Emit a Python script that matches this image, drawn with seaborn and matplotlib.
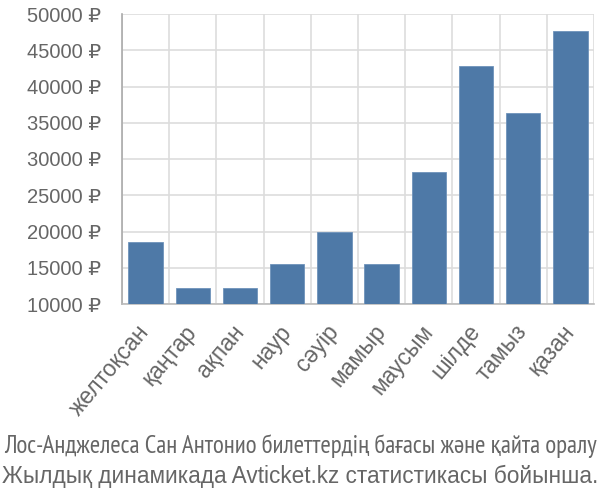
import matplotlib
matplotlib.use("Agg")
import matplotlib.pyplot as plt
import seaborn as sns
import pandas as pd
import numpy as np
from matplotlib import font_manager

months = ["желтоқсан", "қаңтар", "ақпан", "наур", "сәуір", "мамыр", "маусым", "шілде", "тамыз", "қазан"]
prices = [18500, 12200, 12200, 15500, 20000, 15500, 28250, 42800, 36300, 47650]
yticks = [10000, 15000, 20000, 25000, 30000, 35000, 40000, 45000, 50000]
caption1 = "Лос-Анджелеса Сан Антонио билеттердің бағасы және қайта оралу"
caption2 = "Жылдық динамикада Avticket.kz статистикасы бойынша."

sns.set_theme(style="white")
names = {f.name for f in font_manager.fontManager.ttflist}
base = "Liberation Sans" if "Liberation Sans" in names else "DejaVu Sans"
narrow = base
for cand in ["PT Sans Narrow", "Roboto Condensed"]:
    if cand in names:
        narrow = cand
        break
plt.rcParams["font.family"] = [base, "DejaVu Sans"]

df = pd.DataFrame({"month": months, "price": prices})

fig = plt.figure(figsize=(6, 5), dpi=100)
ax = fig.add_axes([0.2033, 0.392, 0.7867, 0.58])
sns.barplot(data=df, x="month", y="price", color="#4e79a7", saturation=1,
            width=0.73, edgecolor="#6f93bb", linewidth=0.6, ax=ax, zorder=3)
ax.set_ylim(10000, 50000)
ax.set_xlim(-0.5, len(months) - 0.5)
ax.set_yticks(yticks)
ax.set_yticklabels([f"{v} ₽" for v in yticks], fontsize=14.5, color="#666666")
ax.set_xticks(range(len(months)))
ax.set_xticklabels(months, rotation=50, ha="right", va="center",
                   rotation_mode="anchor", fontsize=16.5, color="#666666")
ax.set_xticks(np.arange(-0.5, len(months), 1.0), minor=True)
ax.tick_params(axis="x", which="major", length=0, pad=17)
ax.tick_params(axis="x", which="minor", length=13, width=1.2, color="#dddddd")
ax.tick_params(axis="y", length=14, width=1.2, color="#dddddd", pad=1)
ax.grid(False)
ax.yaxis.grid(True, color="#dddddd", linewidth=1.2, zorder=0)
ax.xaxis.grid(True, which="minor", color="#dddddd", linewidth=1.2, zorder=0)
ax.set_axisbelow(True)
for s in ["top", "right"]:
    ax.spines[s].set_visible(False)
ax.spines["left"].set_color("#aaaaaa")
ax.spines["left"].set_linewidth(1.2)
ax.spines["bottom"].set_color("#bbbbbb")
ax.spines["bottom"].set_linewidth(1.2)
ax.set_xlabel("")
ax.set_ylabel("")

# caption lines, sized to span the figure width like the reference
renderer = fig.canvas.get_renderer()
target = 596.0
for txt, y, fam in [(caption1, 0.094, narrow), (caption2, 0.034, base)]:
    t = fig.text(0.5, y, txt, ha="center", va="baseline", fontsize=16,
                 color="#666666", family=[fam, "DejaVu Sans"])
    w = t.get_window_extent(renderer).width
    t.set_fontsize(16 * target / w)

fig.savefig("out.png", dpi=100)
